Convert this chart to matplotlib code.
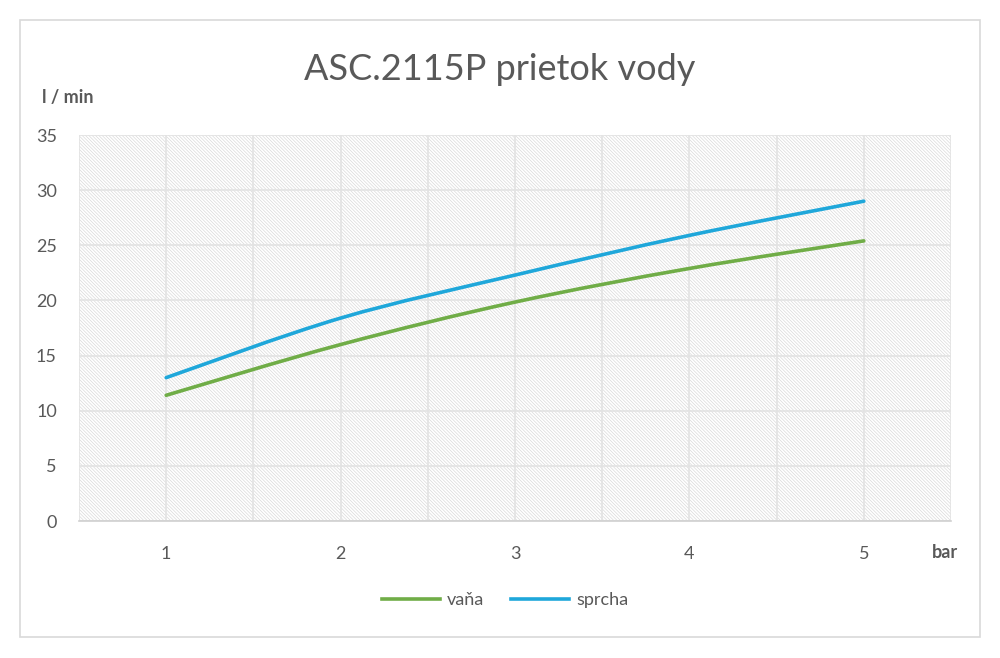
import matplotlib.pyplot as plt
import numpy as np
from matplotlib.path import Path
from matplotlib.patches import PathPatch, Rectangle
from matplotlib.lines import Line2D

plt.rcParams['font.family'] = ['Lato', 'DejaVu Sans']
plt.rcParams['hatch.linewidth'] = 0.5
plt.rcParams['hatch.color'] = '#d9d9d9'

tlak = [1, 2, 3, 4, 5]          # bar
vana = [11.4, 16.0, 19.85, 22.9, 25.4]
sprcha = [13.0, 18.4, 22.3, 25.9, 29.0]
nazvy = ['vaňa', 'sprcha']
farby = ['#70AD47', '#1FA7DA']

txt = '#595959'


def hladka_cesta(x, y):
    # bezier ako excel "smoothed line"
    x = np.asarray(x, float)
    y = np.asarray(y, float)
    verts = [(x[0], y[0])]
    codes = [Path.MOVETO]
    n = len(x)
    for i in range(n - 1):
        x0, y0 = (x[i - 1], y[i - 1]) if i > 0 else (x[i], y[i])
        x3, y3 = (x[i + 2], y[i + 2]) if i + 2 < n else (x[i + 1], y[i + 1])
        c1 = (x[i] + (x[i + 1] - x0) / 6, y[i] + (y[i + 1] - y0) / 6)
        c2 = (x[i + 1] - (x3 - x[i]) / 6, y[i + 1] - (y3 - y[i]) / 6)
        verts += [c1, c2, (x[i + 1], y[i + 1])]
        codes += [Path.CURVE4] * 3
    return Path(verts, codes)


fig = plt.figure(figsize=(10, 6.58), dpi=100)
fig.patches.append(Rectangle((0.02, 1 - 637 / 658), 0.96, 617 / 658,
                             transform=fig.transFigure, fill=False,
                             edgecolor='#d9d9d9', linewidth=1.2))

ax = fig.add_axes([0.079, 0.2082, 0.872, 0.5866])
ax.add_patch(Rectangle((0, 0), 1, 1, transform=ax.transAxes, facecolor='white',
                       hatch='\\' * 10, edgecolor='#d9d9d9', linewidth=0, zorder=0))

ax.set_xlim(0.5, 5.5)
ax.set_ylim(0, 35)
ax.set_xticks(tlak)
ax.set_xticks(np.arange(0.5, 5.6, 0.5), minor=True)
ax.set_yticks(range(0, 36, 5))
ax.grid(True, which='both', axis='x', color='#e3e3e3', linewidth=1.2, zorder=1)
ax.grid(True, axis='y', color='#e3e3e3', linewidth=1.2, zorder=1)
ax.set_axisbelow(True)
ax.tick_params(which='both', length=0, labelsize=13, labelcolor=txt)
ax.tick_params(axis='x', pad=18)
ax.tick_params(axis='y', pad=16)
for s in ['top', 'right', 'left']:
    ax.spines[s].set_visible(False)
ax.spines['bottom'].set_color('#d0d0d0')
ax.spines['bottom'].set_linewidth(1.2)

for data, farba in zip([vana, sprcha], farby):
    ax.add_patch(PathPatch(hladka_cesta(tlak, data), facecolor='none',
                           edgecolor=farba, linewidth=2.6, capstyle='round', zorder=3))

fig.text(0.5, 1 - 69 / 658, 'ASC.2115P prietok vody', ha='center', va='center',
         fontsize=26, color=txt)
fig.text(0.042, 1 - 97 / 658, 'l / min', ha='left', va='center',
         fontsize=13, color=txt, fontweight='bold')
fig.text(0.945, 1 - 553 / 658, 'bar', ha='center', va='center',
         fontsize=13, color=txt, fontweight='bold')

handles = [Line2D([], [], color=c, linewidth=2.6) for c in farby]
fig.legend(handles, nazvy, loc='center', bbox_to_anchor=(0.505, 1 - 600 / 658),
           ncol=2, frameon=False, fontsize=13, labelcolor=txt,
           handlelength=3.2, handletextpad=0.4, columnspacing=1.5)

fig.savefig('out.png', dpi=100)
